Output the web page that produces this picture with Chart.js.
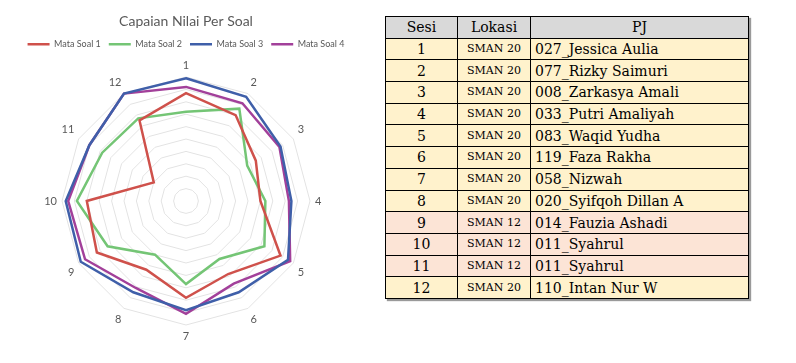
<!DOCTYPE html>
<html>
<head>
<meta charset="utf-8">
<script src="https://cdn.jsdelivr.net/npm/chart.js@4.4.0/dist/chart.umd.min.js"></script>
<style>
    body { margin: 0; background: #fff; width: 796px; height: 363px; overflow: hidden; }
    #chartBox { position: absolute; left: 0; top: 0; width: 372px; height: 350px; }
    table {
        position: absolute; left: 385px; top: 16px;
        border-collapse: collapse;
        font-family: "DejaVu Serif", serif;
        font-size: 14px; color: #000;
        box-shadow: 2px 2px 1px #9a9a9a;
    }
    td, th { border: 1px solid #000; height: 20.7px; padding: 0; line-height: 18px; }
    th { background: #d9d9d9; font-weight: normal; }
    td.sesi { text-align: center; width: 71px; }
    td.lok { text-align: center; width: 72px; font-size: 11px; }
    td.pj { text-align: left; width: 213px; padding-left: 4px; }
    tr.a td { background: #fff2cc; }
    tr.b td { background: #fce4d6; }
</style>
</head>
<body>
<div id="chartBox"><canvas id="radar"></canvas></div>
<table id="tbl">
    <tr><th>Sesi</th><th>Lokasi</th><th>PJ</th></tr>
</table>
<script>
// ============================================
// DATA
// ============================================
const soalLabels = ['1', '2', '3', '4', '5', '6', '7', '8', '9', '10', '11', '12'];
const mataSoal1 = [87, 80, 65, 60, 88, 68, 78, 64, 83, 80, 30, 75];
const mataSoal2 = [72, 86, 57, 64, 73, 54, 67, 50, 73, 88, 78, 77];
const mataSoal3 = [99, 97, 88, 85, 95, 85, 88, 85, 98, 97, 90, 100];
const mataSoal4 = [92, 91, 87, 83, 97, 77, 91, 81, 94, 95, 90, 100];

const sesi = [1, 2, 3, 4, 5, 6, 7, 8, 9, 10, 11, 12];
const lokasi = ['SMAN 20', 'SMAN 20', 'SMAN 20', 'SMAN 20', 'SMAN 20', 'SMAN 20',
    'SMAN 20', 'SMAN 20', 'SMAN 12', 'SMAN 12', 'SMAN 12', 'SMAN 20'];
const pj = ['027_Jessica Aulia', '077_Rizky Saimuri', '008_Zarkasya Amali', '033_Putri Amaliyah',
    '083_Waqid Yudha', '119_Faza Rakha', '058_Nizwah', '020_Syifqoh Dillan A',
    '014_Fauzia Ashadi', '011_Syahrul', '011_Syahrul', '110_Intan Nur W'];

// ============================================
// TABLE
// ============================================
const tbl = document.getElementById('tbl');
sesi.forEach((s, i) => {
    const tr = document.createElement('tr');
    tr.className = lokasi[i] === 'SMAN 12' ? 'b' : 'a';
    tr.innerHTML = '<td class="sesi">' + s + '</td><td class="lok">' + lokasi[i] +
        '</td><td class="pj">' + pj[i] + '</td>';
    tbl.appendChild(tr);
});

// ============================================
// RADAR CHART
// ============================================
function makeSet(label, data, color) {
    return {
        label: label,
        data: data,
        borderColor: color,
        backgroundColor: color,
        borderWidth: 2.5,
        fill: false,
        pointRadius: 0,
        pointHoverRadius: 0
    };
}

new Chart(document.getElementById('radar'), {
    type: 'radar',
    data: {
        labels: soalLabels,
        datasets: [
            makeSet('Mata Soal 1', mataSoal1, '#cf514b'),
            makeSet('Mata Soal 2', mataSoal2, '#74c575'),
            makeSet('Mata Soal 3', mataSoal3, '#3f5fa9'),
            makeSet('Mata Soal 4', mataSoal4, '#a2409a')
        ]
    },
    options: {
        responsive: true,
        maintainAspectRatio: false,
        animation: false,
        layout: { padding: { top: 4, bottom: 6, left: 10, right: 10 } },
        plugins: {
            title: {
                display: true,
                text: 'Capaian Nilai Per Soal',
                color: '#595959',
                font: { family: 'Lato', size: 14, weight: 'normal' },
                padding: { top: 9, bottom: 2 }
            },
            legend: {
                position: 'top',
                labels: {
                    color: '#595959',
                    font: { family: 'Lato', size: 9 },
                    usePointStyle: true,
                    pointStyle: 'line',
                    pointStyleWidth: 22,
                    boxHeight: 8,
                    padding: 8
                }
            },
            tooltip: { enabled: false }
        },
        scales: {
            r: {
                min: 0,
                max: 100,
                ticks: { stepSize: 10, display: false },
                grid: { color: '#e3e3e3', lineWidth: 1 },
                angleLines: { display: false },
                pointLabels: {
                    color: '#595959',
                    font: { family: 'Lato', size: 11 },
                    padding: 5
                }
            }
        }
    }
});
</script>
</body>
</html>
